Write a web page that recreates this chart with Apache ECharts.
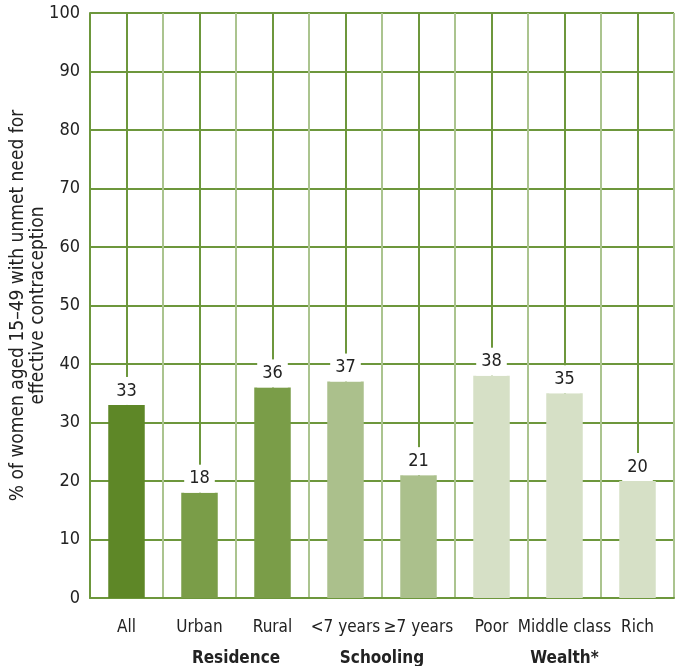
<!DOCTYPE html>
<html><head><meta charset="utf-8">
<script src="https://cdn.jsdelivr.net/npm/echarts@6/dist/echarts.min.js"></script>
<style>html,body{margin:0;padding:0;background:#fff}#c{width:680px;height:666px}</style>
</head><body><div id="c"></div>
<script>
const categories = ['All','Urban','Rural','<7 years','≥7 years','Poor','Middle class','Rich'];
const values = [33,18,36,37,21,38,35,20];
const barColors = ['#5e8727','#7a9d48','#7a9d48','#abc08c','#abc08c','#d6e0c6','#d6e0c6','#d6e0c6'];
const groupLabels = ['Residence','Schooling','Wealth*'];
const groupPositions = [2,4,6.5];
const yTicks = [0,10,20,30,40,50,60,70,80,90,100];

const FONT = '"DejaVu Sans Condensed","Liberation Sans Narrow",sans-serif';
const DARK = '#6d973c';
const LIGHT = '#abc48f';

const chart = echarts.init(document.getElementById('c'));
chart.setOption({
  animation:false,
  grid:{left:90,right:6,top:13,bottom:68,outerBoundsMode:'none',containLabel:false},
  xAxis:[{
    type:'category', data:categories,
    axisLine:{show:true,lineStyle:{color:DARK,width:2}},
    axisTick:{show:false},
    splitLine:{show:false},
    axisLabel:{color:'#222',fontFamily:FONT,fontSize:17,margin:21,interval:0}
  },{
    type:'value', min:0, max:categories.length, interval:0.5, position:'bottom',
    axisLine:{show:false}, axisTick:{show:false},
    splitLine:{show:true,lineStyle:{color:[LIGHT,DARK],width:2}},
    axisLabel:{
      customValues:groupPositions, margin:52,
      color:'#222',fontFamily:FONT,fontSize:17,fontWeight:'bold',
      formatter:function(v){const i=groupPositions.indexOf(v);return i>=0?groupLabels[i]:'';}
    }
  }],
  yAxis:{
    type:'value', min:yTicks[0], max:yTicks[yTicks.length-1], interval:10,
    axisLine:{show:true,lineStyle:{color:DARK,width:2}},
    axisTick:{show:false},
    splitLine:{show:true,lineStyle:{color:DARK,width:2}},
    axisLabel:{color:'#222',fontFamily:FONT,fontSize:18,margin:10},
    name:'% of women aged 15–49 with unmet need for\neffective contraception',
    nameLocation:'middle', nameGap:42, nameMoveOverlap:false,
    nameTextStyle:{color:'#222',fontFamily:FONT,fontSize:19,lineHeight:20}
  },
  series:[{
    type:'bar', xAxisIndex:0, barWidth:'50%',
    data:values.map((v,i)=>({value:v,itemStyle:{color:barColors[i]}})),
    label:{show:true,position:'top',distance:0,color:'#222',fontFamily:FONT,fontSize:18,
      backgroundColor:'#fff',padding:[5,5,5,5]}
  }]
});
</script></body></html>
